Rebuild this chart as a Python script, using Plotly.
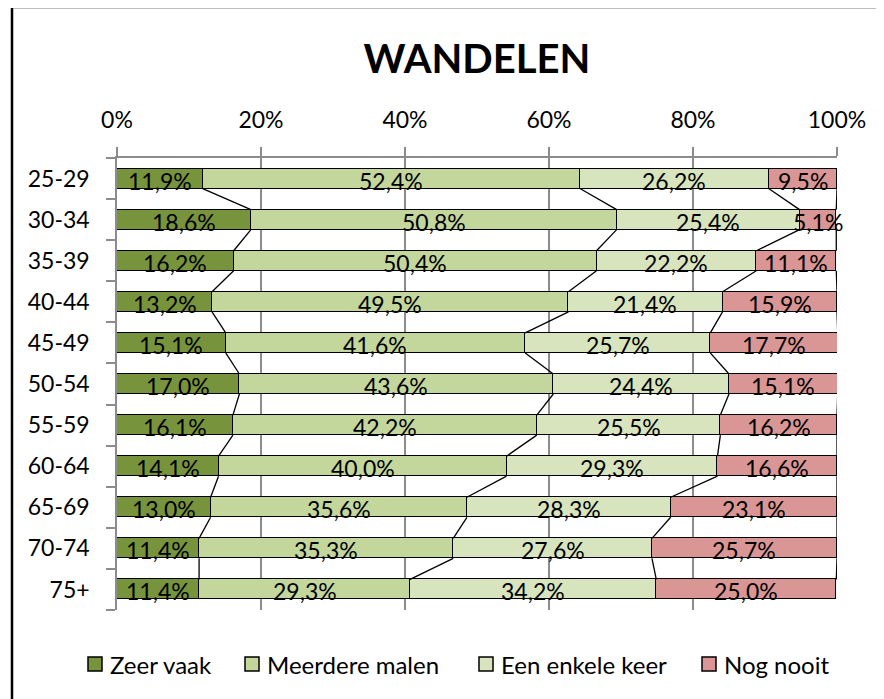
import plotly.graph_objects as go

categories = ["25-29", "30-34", "35-39", "40-44", "45-49", "50-54", "55-59",
              "60-64", "65-69", "70-74", "75+"]
zeer_vaak = [11.9, 18.6, 16.2, 13.2, 15.1, 17.0, 16.1, 14.1, 13.0, 11.4, 11.4]
meerdere_malen = [52.4, 50.8, 50.4, 49.5, 41.6, 43.6, 42.2, 40.0, 35.6, 35.3, 29.3]
een_enkele_keer = [26.2, 25.4, 22.2, 21.4, 25.7, 24.4, 25.5, 29.3, 28.3, 27.6, 34.2]
nog_nooit = [9.5, 5.1, 11.1, 15.9, 17.7, 15.1, 16.2, 16.6, 23.1, 25.7, 25.0]

series_names = ["Zeer vaak", "Meerdere malen", "Een enkele keer", "Nog nooit"]
series_values = [zeer_vaak, meerdere_malen, een_enkele_keer, nog_nooit]
colors = ["#77933C", "#C3D69B", "#D7E4BD", "#D99694"]
x_ticks = [0, 20, 40, 60, 80, 100]
x_tick_labels = ["0%", "20%", "40%", "60%", "80%", "100%"]

FONT = "Lato"
BAR_W = 0.487
pos = list(range(len(categories)))

# pixel geometry (page has an 8px body margin)
OFF = 8
L, R, T, B = 117 - OFF, 884 - 837 + OFF, 158 - OFF, 699 - 610 + OFF
PW, PH = 884 - L - R, 699 - T - B


def px_x(px):
    return (px - OFF - L) / PW


def px_y(py):
    return (699 - B - (py - OFF)) / PH


fig = go.Figure()
for name, vals, col in zip(series_names, series_values, colors):
    fig.add_trace(go.Bar(
        y=pos, x=vals, name=name, orientation="h", width=BAR_W,
        marker=dict(color=col, line=dict(color="black", width=1.5)),
        hoverinfo="skip", showlegend=False,
    ))

# series lines connecting segment boundaries
cums = []
for i in range(len(categories)):
    c = 0
    row = []
    for vals in series_values:
        c += vals[i]
        row.append(c)
    cums.append(row)

lx, ly = [], []
for i in range(len(categories) - 1):
    for k in range(4):
        lx += [cums[i][k], cums[i + 1][k], None]
        ly += [i + BAR_W / 2, i + 1 - BAR_W / 2, None]
fig.add_trace(go.Scatter(x=lx, y=ly, mode="lines", line=dict(color="black", width=1.3),
                         showlegend=False, hoverinfo="skip"))

# data labels
annotations = []
for i in range(len(categories)):
    start = 0
    for vals in series_values:
        v = vals[i]
        annotations.append(dict(
            x=start + v / 2, y=i, xref="x", yref="y", text=f"{v:.1f}".replace(".", ",") + "%",
            showarrow=False, font=dict(family=FONT, size=23, color="black"),
            xanchor="center", yanchor="middle", yshift=-2,
        ))
        start += v

shapes = [
    dict(type="line", xref="paper", yref="paper", x0=px_x(12), x1=px_x(12), y0=px_y(720), y1=px_y(7),
         line=dict(color="black", width=2.5)),
    dict(type="line", xref="paper", yref="paper", x0=px_x(12), x1=px_x(900), y0=px_y(7), y1=px_y(7),
         line=dict(color="black", width=2.5)),
]

# custom legend
leg_sq_x = [88, 245, 479, 702]
for name, col, sx in zip(series_names, colors, leg_sq_x):
    shapes.append(dict(type="rect", xref="paper", yref="paper",
                       x0=px_x(sx), x1=px_x(sx + 14), y0=px_y(671), y1=px_y(657),
                       fillcolor=col, line=dict(color="black", width=1.5)))
    annotations.append(dict(x=px_x(sx + 20), y=px_y(664), xref="paper", yref="paper",
                            text=name, showarrow=False, xanchor="left", yanchor="middle",
                            font=dict(family=FONT, size=24, color="black")))

fig.update_layout(
    width=884, height=699,
    margin=dict(l=L, r=R, t=T, b=B),
    paper_bgcolor="white", plot_bgcolor="white",
    barmode="stack", bargap=0,
    font=dict(family=FONT, size=22, color="black"),
    title=dict(text="<b>WANDELEN</b>", x=0.5, xref="paper", xanchor="center",
               y=1 - (59 - OFF) / 699, yref="container", yanchor="middle",
               font=dict(family=FONT, size=40, color="black")),
    xaxis=dict(side="top", range=[0, 100], tickvals=x_ticks, ticktext=x_tick_labels,
               showgrid=True, gridcolor="#8C8C8C", gridwidth=1.5,
               ticks="outside", ticklen=9, tickcolor="#8C8C8C", tickwidth=1.5,
               showline=True, linecolor="#8C8C8C", linewidth=1.5,
               zeroline=False, ticklabelstandoff=10, fixedrange=True,
               tickfont=dict(family=FONT, size=23)),
    yaxis=dict(range=[10.5, -0.5], tickvals=pos, ticktext=categories,
               ticks="", showgrid=False, zeroline=False,
               showline=True, linecolor="#8C8C8C", linewidth=1.5,
               ticklabelstandoff=21, tickfont=dict(family=FONT, size=23),
               minor=dict(tickvals=[p - 0.5 for p in pos] + [10.5], ticks="outside",
                          ticklen=9, tickcolor="#8C8C8C", tickwidth=1.5, showgrid=False)),
    showlegend=False,
    annotations=annotations,
    shapes=shapes,
)

fig.write_html("out.html")
